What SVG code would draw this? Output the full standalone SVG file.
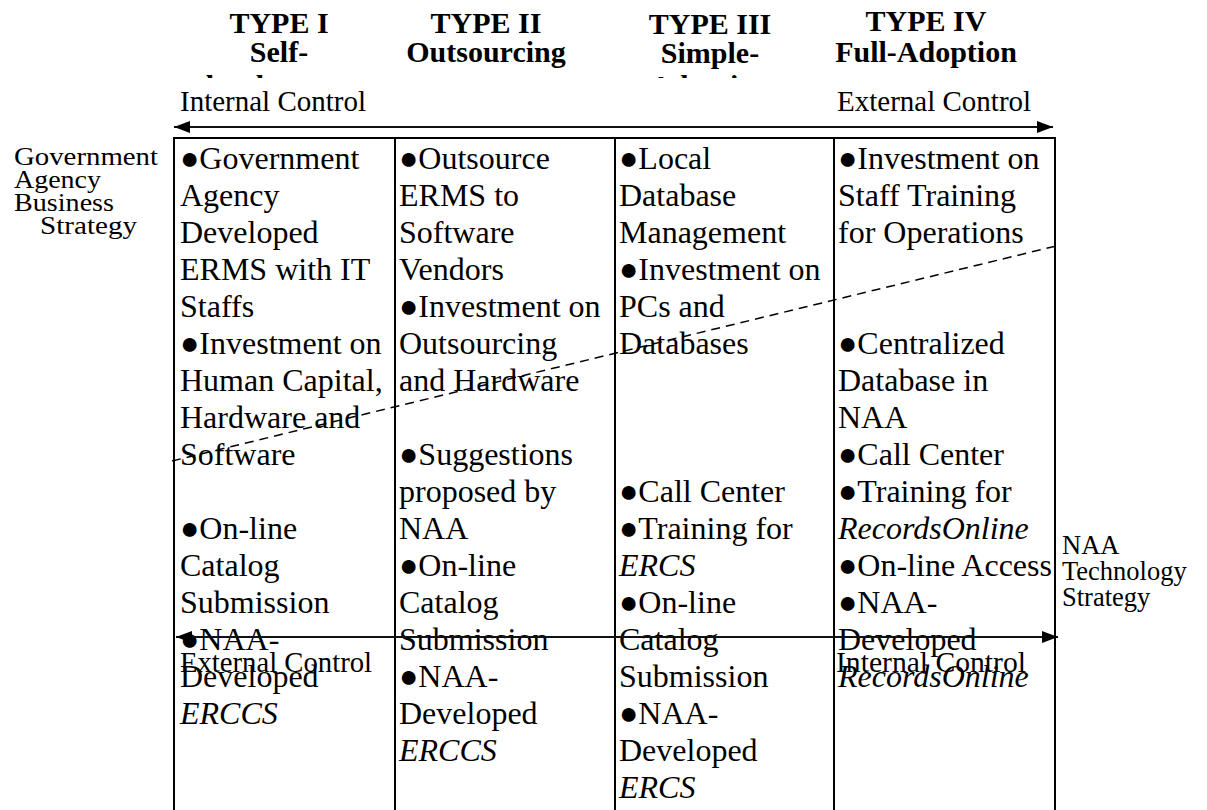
<svg xmlns="http://www.w3.org/2000/svg" width="1207" height="810" viewBox="0 0 1207 810">
<style>
text { font-family: "Liberation Serif", "Times New Roman", serif; fill: #000; }
.hdr { font-weight: bold; font-size: 30px; text-anchor: middle; }
.cell { font-size: 32px; }
.ctl { font-size: 29px; }
.side { font-size: 26px; }
.rside { font-size: 26.5px; }
.it { font-style: italic; }
.grid { stroke: #000; stroke-width: 2; fill: none; }
.arr { stroke: #111; stroke-width: 2; fill: none; }
.dash { stroke: #000; stroke-width: 1.5; stroke-dasharray: 9 6; fill: none; }
</style>
<defs>
<marker id="ah" viewBox="0 0 16 12" refX="16" refY="6" markerWidth="16" markerHeight="12" markerUnits="userSpaceOnUse" orient="auto-start-reverse">
<path d="M0,0 L16,6 L0,12 z" fill="#000"/>
</marker>
<clipPath id="hclip"><rect x="0" y="0" width="1207" height="78"/></clipPath>
</defs>
<rect width="1207" height="810" fill="#fff"/>

<g id="headers" clip-path="url(#hclip)">
<g id="type1"><text class="hdr" x="279" y="33">TYPE I</text><text class="hdr" x="279" y="62">Self-</text><text class="hdr" x="279" y="96">development</text></g>
<g id="type2"><text class="hdr" x="486" y="33">TYPE II</text><text class="hdr" x="486" y="62">Outsourcing</text></g>
<g id="type3"><text class="hdr" x="710" y="34">TYPE III</text><text class="hdr" x="710" y="63">Simple-</text><text class="hdr" x="710" y="96">Adoption</text></g>
<g id="type4"><text class="hdr" x="926" y="31">TYPE IV</text><text class="hdr" x="926" y="62">Full-Adoption</text></g>
</g>

<g id="control-labels">
<text class="ctl" x="180" y="111">Internal Control</text>
<text class="ctl" x="837" y="111">External Control</text>
<text class="ctl" x="180" y="672" textLength="192" lengthAdjust="spacingAndGlyphs">External Control</text>
<text class="ctl" x="836" y="672" textLength="190" lengthAdjust="spacingAndGlyphs">Internal Control</text>
</g>

<g id="left-label">
<text class="side" x="14" y="165" textLength="144" lengthAdjust="spacingAndGlyphs">Government</text>
<text class="side" x="14" y="188" textLength="87" lengthAdjust="spacingAndGlyphs">Agency</text>
<text class="side" x="14" y="211" textLength="100" lengthAdjust="spacingAndGlyphs">Business</text>
<text class="side" x="40" y="234" textLength="97" lengthAdjust="spacingAndGlyphs">Strategy</text>
</g>
<g id="right-label">
<text class="rside" x="1062" y="554">NAA</text>
<text class="rside" x="1062" y="580">Technology</text>
<text class="rside" x="1062" y="606">Strategy</text>
</g>

<g id="table-grid">
<line class="grid" x1="173" y1="138" x2="1056" y2="138"/>
<line class="grid" x1="174" y1="137" x2="174" y2="810"/>
<line class="grid" x1="395" y1="137" x2="395" y2="810"/>
<line class="grid" x1="615" y1="137" x2="615" y2="810"/>
<line class="grid" x1="834" y1="137" x2="834" y2="810"/>
<line class="grid" x1="1055" y1="137" x2="1055" y2="810"/>
</g>

<g id="col1">
<text class="cell" x="180" y="169">●Government</text>
<text class="cell" x="180" y="206">Agency</text>
<text class="cell" x="180" y="243">Developed</text>
<text class="cell" x="180" y="280">ERMS with IT</text>
<text class="cell" x="180" y="317">Staffs</text>
<text class="cell" x="180" y="354">●Investment on</text>
<text class="cell" x="180" y="391">Human Capital,</text>
<text class="cell" x="180" y="428">Hardware and</text>
<text class="cell" x="180" y="465">Software</text>
<text class="cell" x="180" y="539">●On-line</text>
<text class="cell" x="180" y="576">Catalog</text>
<text class="cell" x="180" y="613">Submission</text>
<text class="cell" x="180" y="650">●NAA-</text>
<text class="cell" x="180" y="687">Developed</text>
<text class="cell it" x="180" y="724">ERCCS</text>
</g>

<g id="col2">
<text class="cell" x="399" y="169">●Outsource</text>
<text class="cell" x="399" y="206">ERMS to</text>
<text class="cell" x="399" y="243">Software</text>
<text class="cell" x="399" y="280">Vendors</text>
<text class="cell" x="399" y="317">●Investment on</text>
<text class="cell" x="399" y="354">Outsourcing</text>
<text class="cell" x="399" y="391">and Hardware</text>
<text class="cell" x="399" y="465">●Suggestions</text>
<text class="cell" x="399" y="502">proposed by</text>
<text class="cell" x="399" y="539">NAA</text>
<text class="cell" x="399" y="576">●On-line</text>
<text class="cell" x="399" y="613">Catalog</text>
<text class="cell" x="399" y="650">Submission</text>
<text class="cell" x="399" y="687">●NAA-</text>
<text class="cell" x="399" y="724">Developed</text>
<text class="cell it" x="399" y="761">ERCCS</text>
</g>

<g id="col3">
<text class="cell" x="619" y="169">●Local</text>
<text class="cell" x="619" y="206">Database</text>
<text class="cell" x="619" y="243">Management</text>
<text class="cell" x="619" y="280">●Investment on</text>
<text class="cell" x="619" y="317">PCs and</text>
<text class="cell" x="619" y="354">Databases</text>
<text class="cell" x="619" y="502">●Call Center</text>
<text class="cell" x="619" y="539">●Training for</text>
<text class="cell it" x="619" y="576">ERCS</text>
<text class="cell" x="619" y="613">●On-line</text>
<text class="cell" x="619" y="650">Catalog</text>
<text class="cell" x="619" y="687">Submission</text>
<text class="cell" x="619" y="724">●NAA-</text>
<text class="cell" x="619" y="761">Developed</text>
<text class="cell it" x="619" y="798">ERCS</text>
</g>

<g id="col4">
<text class="cell" x="838" y="169">●Investment on</text>
<text class="cell" x="838" y="206">Staff Training</text>
<text class="cell" x="838" y="243">for Operations</text>
<text class="cell" x="838" y="354">●Centralized</text>
<text class="cell" x="838" y="391">Database in</text>
<text class="cell" x="838" y="428">NAA</text>
<text class="cell" x="838" y="465">●Call Center</text>
<text class="cell" x="838" y="502">●Training for</text>
<text class="cell it" x="838" y="539">RecordsOnline</text>
<text class="cell" x="838" y="576">●On-line Access</text>
<text class="cell" x="838" y="613">●NAA-</text>
<text class="cell" x="838" y="650">Developed</text>
<text class="cell it" x="838" y="687">RecordsOnline</text>
</g>

<g id="connectors">
<line class="arr" x1="174" y1="127" x2="1053" y2="127" marker-start="url(#ah)" marker-end="url(#ah)"/>
<line class="arr" x1="176" y1="637" x2="1058" y2="637" marker-start="url(#ah)" marker-end="url(#ah)"/>
<line class="dash" x1="172" y1="461" x2="1056" y2="246"/>
</g>
</svg>
